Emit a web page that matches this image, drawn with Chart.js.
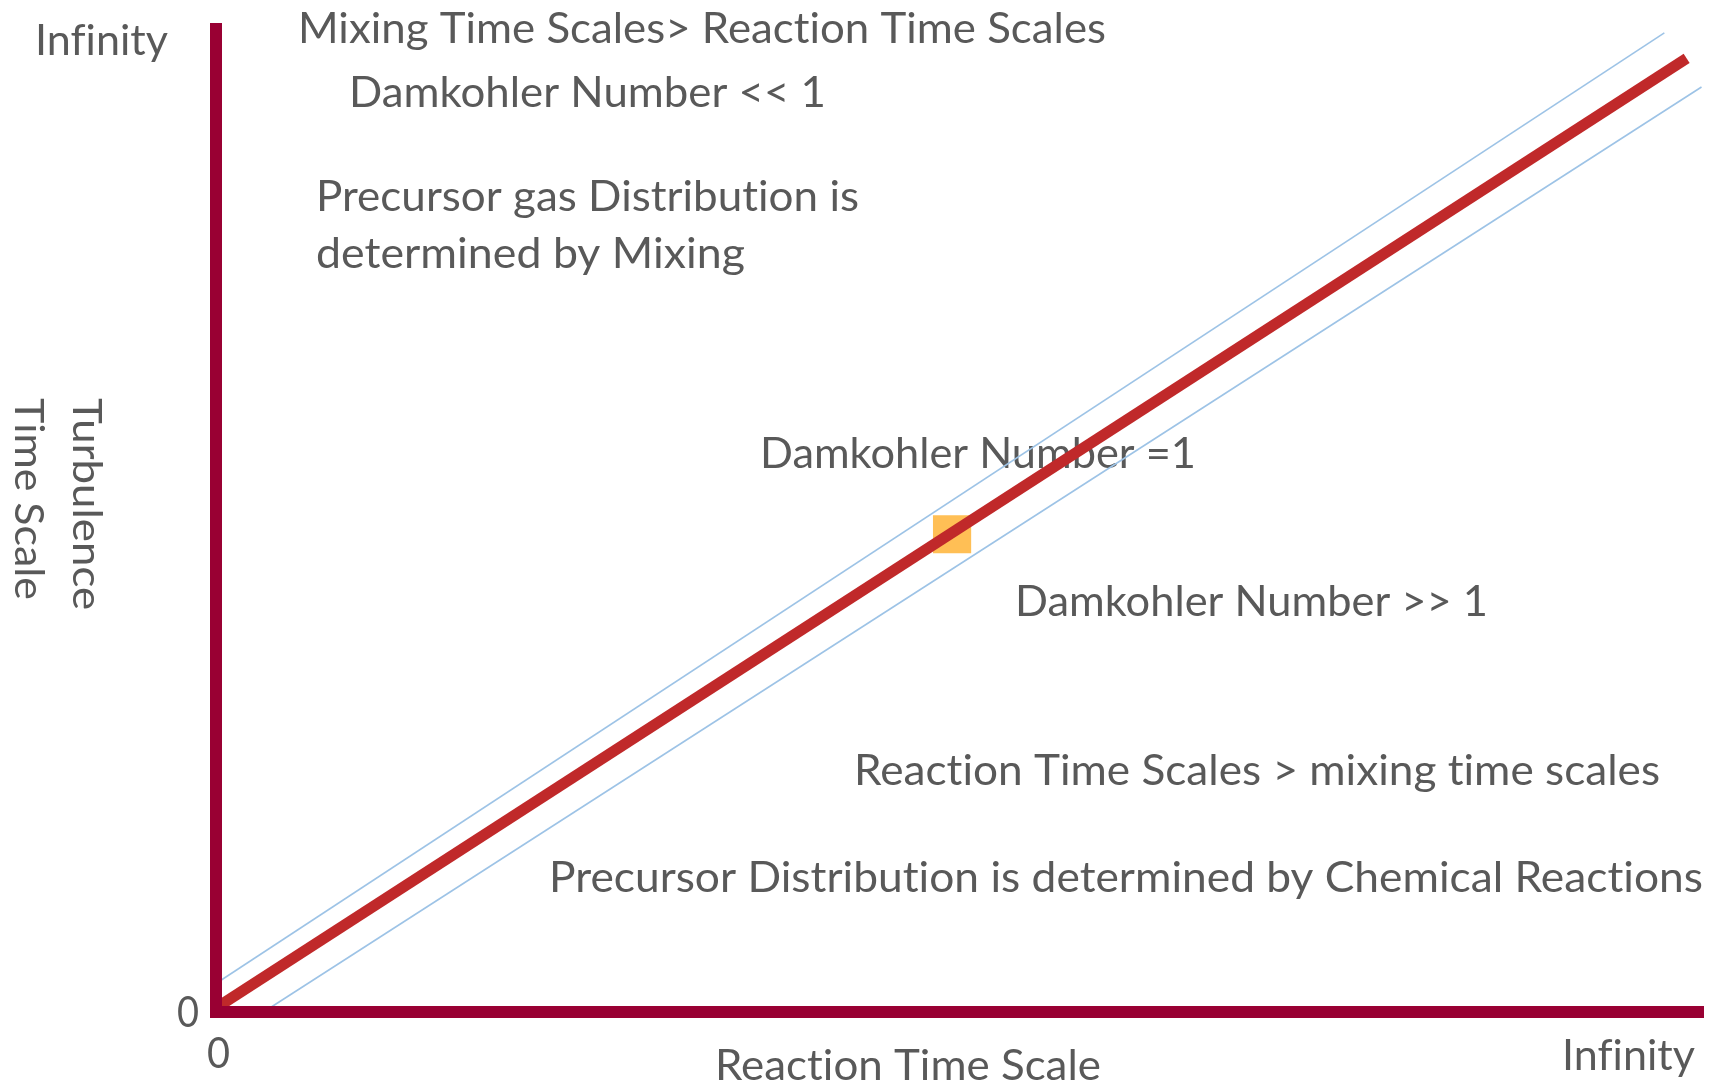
<!DOCTYPE html>
<html>
<head>
<meta charset="utf-8">
<script src="https://cdn.jsdelivr.net/npm/chart.js@4.4.1/dist/chart.umd.min.js"></script>
<style>
  html, body { margin: 0; padding: 0; background: #ffffff; }
  #wrap { width: 1716px; height: 1082px; position: relative; }
</style>
</head>
<body>
<div id="wrap"><canvas id="c"></canvas></div>
<script>
// ---- data (axis units 0..100, 100 = "Infinity") ----
const xTickLabels = ['0', 'Infinity'];
const yTickLabels = ['0', 'Infinity'];
const xAxisTitle = 'Reaction Time Scale';
const yAxisTitleLines = ['Turbulence', 'Time Scale'];

const diagonalX = [0.3, 98.9];
const diagonalY = [0.7, 97.0];
const upperBandX = [0.0, 97.4];
const upperBandY = [2.9, 99.6];
const lowerBandX = [3.3, 99.9];
const lowerBandY = [0.1, 94.1];
const markerX = [49.5];
const markerY = [48.6];

const annotationTexts = [
  'Mixing Time Scales> Reaction Time Scales',
  'Damkohler Number << 1',
  'Precursor gas Distribution is',
  'determined by Mixing',
  'Damkohler Number =1',
  'Damkohler Number >> 1',
  'Reaction Time Scales > mixing time scales',
  'Precursor Distribution is determined by Chemical Reactions'
];

// ---- layout (pixels) ----
const FONT_FAMILY = 'Lato, "Open Sans", sans-serif';
const FONT_SIZE = 43;
const TEXT_COLOR = '#595959';
// [left x, baseline y, target width]
const annotationBoxes = [
  [298, 43, 808],
  [349, 107, 477],
  [316, 211, 543],
  [316, 268, 429],
  [760, 468, 436],
  [1015, 616, 473],
  [854, 785, 806],
  [549, 892, 1154]
];
const xTickBoxes = [[207, 1068, 23], [1562, 1070, 133]];
const yTickBoxes = [[177, 1027, 22], [35, 55, 133]];
const xTitleBox = [715, 1080, 386];
// rotated: [baseline x, start y, length]
const yTitleBoxes = [[73, 398, 212], [15, 398, 202]];

const pts = (xs, ys) => xs.map((x, i) => ({x: x, y: ys[i]}));

function drawFitted(ctx, text, x, y, w, size) {
  ctx.save();
  ctx.font = size + 'px ' + FONT_FAMILY;
  try { ctx.textRendering = 'optimizeSpeed'; } catch (e) {}
  try { ctx.letterSpacing = '0.01px'; } catch (e) {}
  const m = ctx.measureText(text).width;
  ctx.translate(x, y);
  ctx.scale(w / m, 1);
  ctx.fillText(text, 0, 0);
  ctx.restore();
}

const textPlugin = {
  id: 'diagramText',
  beforeDatasetsDraw(chart) {
    const ctx = chart.ctx;
    ctx.save();
    ctx.fillStyle = TEXT_COLOR;
    ctx.textAlign = 'left';
    ctx.textBaseline = 'alphabetic';
    annotationTexts.forEach((t, i) => {
      const b = annotationBoxes[i];
      drawFitted(ctx, t, b[0], b[1], b[2], FONT_SIZE);
    });
    xTickLabels.forEach((t, i) => {
      const b = xTickBoxes[i];
      drawFitted(ctx, t, b[0], b[1], b[2], FONT_SIZE);
    });
    yTickLabels.forEach((t, i) => {
      const b = yTickBoxes[i];
      drawFitted(ctx, t, b[0], b[1], b[2], FONT_SIZE);
    });
    drawFitted(ctx, xAxisTitle, xTitleBox[0], xTitleBox[1], xTitleBox[2], FONT_SIZE);
    yAxisTitleLines.forEach((t, i) => {
      const b = yTitleBoxes[i];
      ctx.save();
      ctx.translate(b[0], b[1]);
      ctx.rotate(Math.PI / 2);
      drawFitted(ctx, t, 0, 0, b[2], 41);
      ctx.restore();
    });
    ctx.restore();
  }
};

const axisScale = {
  type: 'linear',
  min: 0,
  max: 100,
  display: true,
  grid: { display: false, drawTicks: false },
  ticks: { display: false },
  border: { display: true, color: '#990033', width: 12, z: 1 }
};

new Chart(document.getElementById('c'), {
  type: 'scatter',
  data: {
    datasets: [
      {
        label: 'Damkohler = 1',
        data: pts(diagonalX, diagonalY),
        showLine: true,
        borderColor: '#C0292A',
        borderWidth: 11,
        borderCapStyle: 'butt',
        pointRadius: 0,
        clip: false,
        order: 1
      },
      {
        label: 'upper band',
        data: pts(upperBandX, upperBandY),
        showLine: true,
        borderColor: '#9DC3E6',
        borderWidth: 1.6,
        pointRadius: 0,
        clip: false,
        order: 2
      },
      {
        label: 'lower band',
        data: pts(lowerBandX, lowerBandY),
        showLine: true,
        borderColor: '#9DC3E6',
        borderWidth: 1.6,
        pointRadius: 0,
        clip: false,
        order: 2
      },
      {
        label: 'marker',
        data: pts(markerX, markerY),
        pointStyle: 'rect',
        pointRadius: 27,
        backgroundColor: '#FFBF55',
        borderWidth: 0,
        clip: false,
        order: 3
      }
    ]
  },
  options: {
    responsive: true,
    maintainAspectRatio: false,
    animation: false,
    events: [],
    layout: { autoPadding: false, padding: { left: 216, top: 29, right: 13, bottom: 70 } },
    plugins: { legend: { display: false }, tooltip: { enabled: false }, title: { display: false } },
    scales: {
      x: Object.assign({ position: 'bottom' }, axisScale),
      y: Object.assign({ position: 'left' }, axisScale)
    }
  },
  plugins: [textPlugin]
});
</script>
</body>
</html>
